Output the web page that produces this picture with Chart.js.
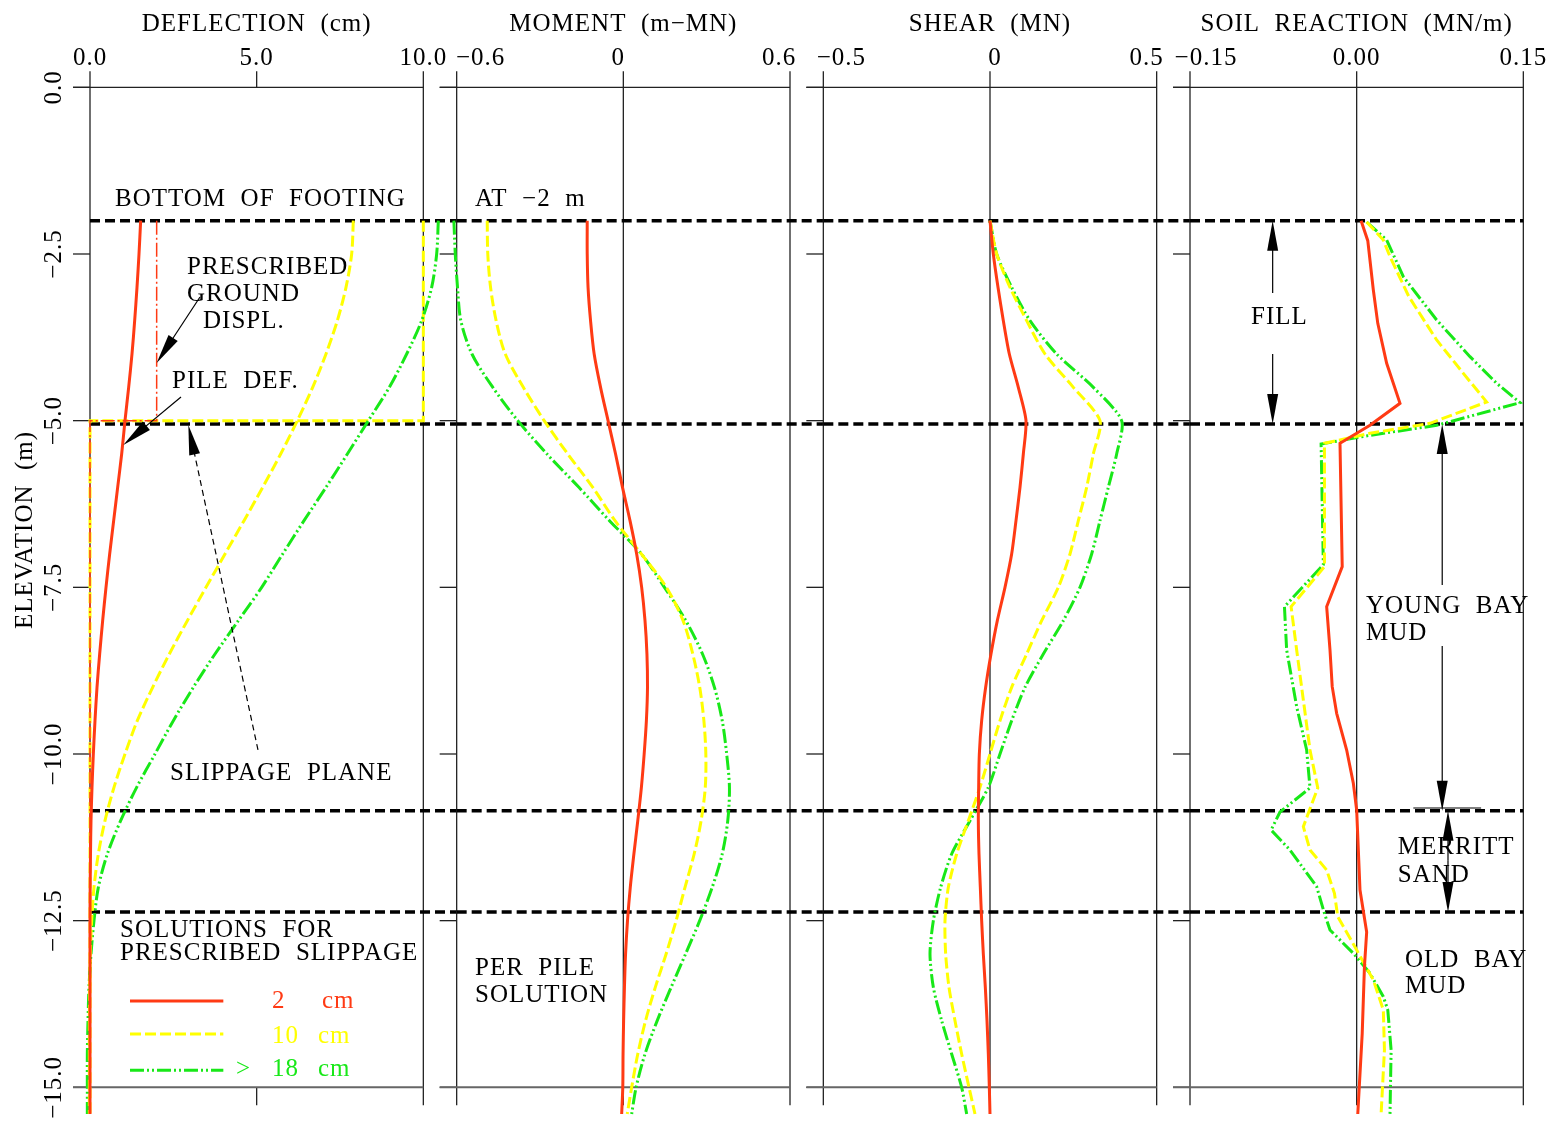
<!DOCTYPE html>
<html>
<head>
<meta charset="utf-8">
<script src="https://cdn.jsdelivr.net/npm/chart.js@4.4.1/dist/chart.umd.min.js"></script>
<style>
  html, body { margin: 0; padding: 0; background: #fff; }
  #wrap { position: relative; width: 1564px; height: 1126px; }
  canvas { position: absolute; left: 0; top: 0; }
</style>
</head>
<body>
<div id="wrap">
  <canvas id="c0" width="1564" height="1126"></canvas>
  <canvas id="c1" width="1564" height="1126"></canvas>
  <canvas id="c2" width="1564" height="1126"></canvas>
  <canvas id="c3" width="1564" height="1126"></canvas>
</div>
<script>
// elevations (m) for the smooth pile curves
const elev = [-2, -2.5, -3, -3.5, -4, -4.5, -5, -5.5, -6, -6.5, -7, -7.5, -8, -8.5, -9, -9.5,
              -10, -10.5, -11, -11.5, -12, -12.5, -13, -13.5, -14, -14.5, -15, -15.4];

// deflection (cm) for 2, 10, >18 cm slippage
const defl2  = [1.52, 1.47, 1.41, 1.34, 1.26, 1.16, 1.05, 0.95, 0.83, 0.71, 0.59, 0.48, 0.38, 0.29, 0.21, 0.15,
                0.10, 0.06, 0.03, 0.015, 0.005, 0, 0, 0, 0, 0, 0, 0];
const defl10 = [7.9, 7.85, 7.68, 7.42, 7.08, 6.68, 6.22, 5.72, 5.18, 4.62, 4.05, 3.48, 2.92, 2.38, 1.88, 1.42,
                1.05, 0.72, 0.45, 0.25, 0.12, 0.05, 0.01, -0.01, -0.02, -0.02, -0.02, -0.02];
const defl18 = [10.45, 10.4, 10.25, 9.95, 9.5, 8.98, 8.35, 7.72, 7.08, 6.42, 5.78, 5.15, 4.45, 3.75, 3.1, 2.5,
                1.95, 1.4, 0.92, 0.52, 0.25, 0.12, 0.03, -0.03, -0.06, -0.08, -0.08, -0.08];

// prescribed ground displacement profiles
const groundElev = [-2, -5, -5, -15.4];
const ground2  = [2, 2, 0, 0];
const ground10 = [10, 10, 0, 0];

// moment (m-MN)
const mom2  = [-0.13, -0.13, -0.127, -0.118, -0.105, -0.082, -0.055, -0.028, -0.003, 0.024, 0.048, 0.066, 0.078, 0.085,
               0.087, 0.083, 0.075, 0.065, 0.052, 0.038, 0.025, 0.015, 0.008, 0.004, 0.001, -0.001, -0.002, -0.006];
const mom10 = [-0.49, -0.488, -0.478, -0.458, -0.425, -0.36, -0.285, -0.2, -0.11, -0.03, 0.065, 0.155, 0.215, 0.25,
               0.275, 0.29, 0.297, 0.295, 0.28, 0.255, 0.222, 0.19, 0.154, 0.115, 0.08, 0.052, 0.03, 0.014];
const mom18 = [-0.61, -0.605, -0.597, -0.585, -0.545, -0.47, -0.38, -0.275, -0.16, -0.05, 0.065, 0.148, 0.225, 0.285,
               0.328, 0.356, 0.372, 0.382, 0.376, 0.356, 0.32, 0.275, 0.224, 0.172, 0.122, 0.078, 0.046, 0.03];

// shear (MN)
const shear2  = [0, 0.01, 0.024, 0.04, 0.058, 0.085, 0.108, 0.1, 0.09, 0.078, 0.065, 0.045, 0.022, 0.003,
                 -0.013, -0.025, -0.032, -0.034, -0.035, -0.033, -0.029, -0.025, -0.02, -0.014, -0.009, -0.005, -0.002, 0];
const shear10 = [0, 0.02, 0.06, 0.11, 0.165, 0.25, 0.33, 0.31, 0.29, 0.265, 0.24, 0.205, 0.155, 0.11,
                 0.065, 0.03, 0, -0.03, -0.065, -0.1, -0.125, -0.135, -0.133, -0.123, -0.105, -0.085, -0.063, -0.045];
const shear18 = [0, 0.02, 0.065, 0.12, 0.2, 0.31, 0.395, 0.38, 0.355, 0.33, 0.305, 0.27, 0.22, 0.16,
                 0.105, 0.065, 0.03, -0.005, -0.06, -0.115, -0.148, -0.17, -0.18, -0.17, -0.145, -0.115, -0.085, -0.07];

// soil reaction (MN/m), piecewise
const soilElev2 = [-2, -2.3, -3.04, -3.54, -4.14, -4.74, -5.07, -5.34, -7.19, -7.79, -8.44, -8.99, -9.39, -9.94,
                   -10.44, -10.84, -12.04, -12.67, -13.19, -14.19, -15.4];
const soil2     = [0.004, 0.01, 0.015, 0.019, 0.027, 0.039, 0.012, -0.015, -0.013, -0.027, -0.024, -0.022, -0.018, -0.009,
                   -0.003, 0, 0.003, 0.009, 0.007, 0.005, 0.001];
const soilElev10 = [-2.02, -2.29, -2.54, -3.14, -3.79, -4.29, -4.72, -5.04, -5.19, -5.34, -7.19, -7.79, -8.44, -9.19,
                    -9.94, -10.51, -11.09, -11.44, -11.74, -12.09, -12.44, -12.94, -13.39, -13.84, -14.44, -15.4];
const soil10     = [0.009, 0.024, 0.03, 0.047, 0.072, 0.096, 0.117, 0.066, 0.012, -0.029, -0.029, -0.059, -0.054, -0.048,
                    -0.042, -0.035, -0.048, -0.042, -0.027, -0.02, -0.017, 0, 0.015, 0.024, 0.025, 0.022];
const soilElev18 = [-2.02, -2.29, -2.84, -3.49, -4.04, -4.44, -4.73, -5.07, -5.22, -5.35, -7.16, -7.79, -8.44, -9.29,
                    -9.94, -10.51, -10.87, -11.14, -11.44, -11.99, -12.39, -12.64, -12.99, -13.29, -13.64, -13.84, -14.44, -15.4];
const soil18     = [0.009, 0.027, 0.042, 0.072, 0.102, 0.126, 0.147, 0.072, 0.012, -0.032, -0.03, -0.065, -0.063, -0.054,
                    -0.045, -0.042, -0.069, -0.077, -0.06, -0.036, -0.029, -0.024, -0.003, 0.012, 0.024, 0.028, 0.031, 0.03];

// layer boundaries (m): bottom of footing, slippage plane, top of sand, top of old bay mud
const layerBounds = [-2, -5.05, -10.85, -12.37];

// axes
const elevTicks = [0, -2.5, -5, -7.5, -10, -12.5, -15];
const elevTickLabels = ['0.0', '\u22122.5', '\u22125.0', '\u22127.5', '\u221210.0', '\u221212.5', '\u221215.0'];
const deflTicks = [0, 5, 10];
const deflTickLabels = ['0.0', '5.0', '10.0'];
const momTicks = [-0.6, 0, 0.6];
const momTickLabels = ['\u22120.6', '0', '0.6'];
const shearTicks = [-0.5, 0, 0.5];
const shearTickLabels = ['\u22120.5', '0', '0.5'];
const soilTicks = [-0.15, 0, 0.15];
const soilTickLabels = ['\u22120.15', '0.00', '0.15'];
const legendLabels = ['2', '10', '18'];

// ---- layout / style ----
const W = 1564, H = 1126;
const LEFTS = [90, 456.67, 823.33, 1190];
const PW = 333.33;
const TOP = 87.33, BOTTOM = 1115.33;
const Y_MIN = -15.42, FRAME_END = -15.27;
const FONT = '25px "Liberation Serif", "Times New Roman", serif';

const STY = [
  { borderColor: '#ff3a14', borderWidth: 3, borderDash: [] },
  { borderColor: '#ffff00', borderWidth: 3, borderDash: [11, 4] },
  { borderColor: '#18e818', borderWidth: 3, borderDash: [14, 3, 2, 3, 2, 3] }
];

function curve(xv, yv) { return yv.map((y, k) => ({ x: xv[k], y: y })); }

const panels = [
  { title: 'DEFLECTION  (cm)', min: 0, max: 10, ticks: deflTicks, labels: deflTickLabels, shift: [0, 0, 0],
    series: [curve(defl2, elev), curve(defl10, elev), curve(defl18, elev)], tension: 0.3 },
  { title: 'MOMENT  (m\u2212MN)', min: -0.6, max: 0.6, ticks: momTicks, labels: momTickLabels, shift: [24, -5, -11],
    series: [curve(mom2, elev), curve(mom10, elev), curve(mom18, elev)], tension: 0.3 },
  { title: 'SHEAR  (MN)', min: -0.5, max: 0.5, ticks: shearTicks, labels: shearTickLabels, shift: [18, 5, -10],
    series: [curve(shear2, elev), curve(shear10, elev), curve(shear18, elev)], tension: 0.25 },
  { title: 'SOIL  REACTION  (MN/m)', min: -0.15, max: 0.15, ticks: soilTicks, labels: soilTickLabels, shift: [16, 0, 0],
    series: [curve(soil2, soilElev2), curve(soil10, soilElev10), curve(soil18, soilElev18)], tension: 0 }
];

function line(ctx, x1, y1, x2, y2) {
  ctx.beginPath(); ctx.moveTo(x1, y1); ctx.lineTo(x2, y2); ctx.stroke();
}

function arrow(ctx, x1, y1, x2, y2, dash) {
  const a = Math.atan2(y2 - y1, x2 - x1);
  const L = 30, hw = 5.5;
  const c = Math.cos(a), s = Math.sin(a);
  ctx.save();
  ctx.strokeStyle = '#000'; ctx.fillStyle = '#000'; ctx.lineWidth = 1.2;
  ctx.setLineDash(dash || []);
  line(ctx, x1, y1, x2 - c * L * 0.5, y2 - s * L * 0.5);
  ctx.setLineDash([]);
  ctx.beginPath();
  ctx.moveTo(x2, y2);
  ctx.lineTo(x2 - L * c + hw * s, y2 - L * s - hw * c);
  ctx.lineTo(x2 - L * c - hw * s, y2 - L * s + hw * c);
  ctx.closePath(); ctx.fill();
  ctx.restore();
}

function txt(ctx, s, x, y, color, align) {
  ctx.save();
  ctx.font = FONT;
  ctx.letterSpacing = '1px';
  ctx.fillStyle = color || '#000';
  ctx.textAlign = align || 'left';
  ctx.textBaseline = 'middle';
  ctx.fillText(s, x, y);
  ctx.restore();
}

const annotate = [
  function (ctx, X, Y, chart) {
    txt(ctx, 'BOTTOM  OF  FOOTING', X(0.75), Y(-1.675));
    txt(ctx, 'PRESCRIBED', X(2.91), Y(-2.705));
    txt(ctx, 'GROUND', X(2.91), Y(-3.1));
    txt(ctx, 'DISPL.', X(3.39), Y(-3.505));
    arrow(ctx, X(3.3), Y(-3.145), X(2.0), Y(-4.135));
    txt(ctx, 'PILE  DEF.', X(2.46), Y(-4.405));
    arrow(ctx, X(2.73), Y(-4.645), X(1.0), Y(-5.365));
    arrow(ctx, X(5.04), Y(-9.94), X(2.95), Y(-5.065), [6, 4]);
    txt(ctx, 'SLIPPAGE  PLANE', X(2.4), Y(-10.285));
    txt(ctx, 'SOLUTIONS  FOR', X(0.9), Y(-12.64));
    txt(ctx, 'PRESCRIBED  SLIPPAGE', X(0.9), Y(-12.985));
    const rows = [-13.705, -14.2, -14.745];
    const textRows = [-13.715, -14.23, -14.725];
    const cmX = [6.96, 6.84, 6.84];
    rows.forEach((r, k) => {
      const ds = chart.data.datasets[k];
      ctx.save();
      ctx.strokeStyle = ds.borderColor; ctx.lineWidth = ds.borderWidth;
      ctx.setLineDash(ds.borderDash);
      line(ctx, X(1.2), Y(r), X(4.0), Y(r));
      ctx.restore();
      txt(ctx, legendLabels[k], X(5.46), Y(textRows[k]), ds.borderColor);
      txt(ctx, 'cm', X(cmX[k]), Y(textRows[k]), ds.borderColor);
    });
    txt(ctx, '>', X(4.38), Y(textRows[2]), chart.data.datasets[2].borderColor);
  },
  function (ctx, X, Y) {
    txt(ctx, 'AT  \u22122  m', X(-0.534), Y(-1.675));
    txt(ctx, 'PER  PILE', X(-0.534), Y(-13.21));
    txt(ctx, 'SOLUTION', X(-0.534), Y(-13.615));
  },
  function () {},
  function (ctx, X, Y) {
    txt(ctx, 'FILL', X(-0.095), Y(-3.45));
    arrow(ctx, X(-0.0756), Y(-3.085), X(-0.0756), Y(layerBounds[0]));
    arrow(ctx, X(-0.0756), Y(-4.0), X(-0.0756), Y(layerBounds[1]));
    arrow(ctx, X(0.077), Y(-7.465), X(0.077), Y(layerBounds[1]));
    txt(ctx, 'YOUNG  BAY', X(0.0084), Y(-7.79));
    txt(ctx, 'MUD', X(0.0084), Y(-8.19));
    arrow(ctx, X(0.077), Y(-8.38), X(0.077), Y(layerBounds[2]));
    ctx.save(); ctx.strokeStyle = '#000'; ctx.lineWidth = 1.2;
    line(ctx, X(0.051), Y(-10.81), X(0.112), Y(-10.81));
    ctx.restore();
    arrow(ctx, X(0.0822), Y(-11.6), X(0.0822), Y(layerBounds[2]));
    arrow(ctx, X(0.0822), Y(-11.6), X(0.0822), Y(layerBounds[3]));
    txt(ctx, 'MERRITT', X(0.037), Y(-11.405));
    txt(ctx, 'SAND', X(0.037), Y(-11.815));
    txt(ctx, 'OLD  BAY', X(0.0435), Y(-13.09));
    txt(ctx, 'MUD', X(0.0435), Y(-13.49));
  }
];

const decor = {
  id: 'decor',
  beforeDatasetsDraw(chart) {
    const i = chart.options.plugins.decor.index;
    const p = panels[i];
    const ctx = chart.ctx, xs = chart.scales.x, ys = chart.scales.y;
    const X = v => xs.getPixelForValue(v), Y = v => ys.getPixelForValue(v);
    const xL = X(p.min), xR = X(p.max);
    const yTop = Y(0), yBot = Y(-15), yEnd = Y(FRAME_END), yAbove = yTop - 16;
    ctx.save();
    ctx.strokeStyle = '#222'; ctx.lineWidth = 1.3;
    p.ticks.forEach((t, k) => {
      const xx = X(t);
      if (i === 0 && k === 1) { line(ctx, xx, yAbove, xx, yTop); line(ctx, xx, yBot, xx, yEnd); }
      else line(ctx, xx, yAbove, xx, yEnd);
    });
    line(ctx, xL - 17, yTop, xR, yTop);
    elevTicks.forEach(t => line(ctx, xL - 17, Y(t), xL, Y(t)));
    ctx.strokeStyle = '#666'; ctx.lineWidth = 2;
    line(ctx, xL - 17, yBot, xR, yBot);
    const xEnd = i < 3 ? LEFTS[i + 1] : xR;
    ctx.strokeStyle = '#000'; ctx.lineWidth = 3.5; ctx.setLineDash([10, 5]);
    layerBounds.forEach(b => line(ctx, xL, Y(b), xEnd, Y(b)));
    ctx.restore();
  },
  afterDatasetsDraw(chart) {
    const i = chart.options.plugins.decor.index;
    const p = panels[i];
    const ctx = chart.ctx, xs = chart.scales.x, ys = chart.scales.y;
    const X = v => xs.getPixelForValue(v), Y = v => ys.getPixelForValue(v);
    txt(ctx, p.title, (X(p.min) + X(p.max)) / 2, 24, '#000', 'center');
    p.ticks.forEach((t, k) => txt(ctx, p.labels[k], X(t) + p.shift[k], 58, '#000', 'center'));
    if (i === 0) {
      ctx.save();
      ctx.font = FONT; ctx.letterSpacing = '1px'; ctx.fillStyle = '#000';
      ctx.textAlign = 'center'; ctx.textBaseline = 'middle';
      elevTicks.forEach((t, k) => {
        ctx.save(); ctx.translate(54, Y(t)); ctx.rotate(-Math.PI / 2);
        ctx.fillText(elevTickLabels[k], 0, 0); ctx.restore();
      });
      ctx.translate(25, 530); ctx.rotate(-Math.PI / 2);
      ctx.fillText('ELEVATION  (m)', 0, 0);
      ctx.restore();
    }
    annotate[i](ctx, X, Y, chart);
  }
};

panels.forEach((p, i) => {
  const datasets = p.series.map((d, k) => Object.assign({
    data: d, tension: p.tension, clip: false, pointRadius: 0, fill: false
  }, STY[k]));
  if (i === 0) {
    datasets.push({ data: curve(ground2, groundElev), borderColor: STY[0].borderColor, borderWidth: 1.5,
                    borderDash: [14, 3, 2, 3], tension: 0, clip: false, pointRadius: 0, fill: false });
    datasets.push({ data: curve(ground10, groundElev), borderColor: STY[1].borderColor, borderWidth: 3,
                    borderDash: [11, 4], tension: 0, clip: false, pointRadius: 0, fill: false });
  }
  new Chart(document.getElementById('c' + i), {
    type: 'line',
    data: { datasets: datasets },
    options: {
      responsive: false,
      animation: false,
      events: [],
      layout: { padding: { left: LEFTS[i], right: W - LEFTS[i] - PW, top: TOP, bottom: H - BOTTOM } },
      scales: {
        x: { type: 'linear', min: p.min, max: p.max, display: false },
        y: { type: 'linear', min: Y_MIN, max: 0, display: false }
      },
      plugins: { legend: { display: false }, tooltip: { enabled: false }, decor: { index: i } }
    },
    plugins: [decor]
  });
});
</script>
</body>
</html>
